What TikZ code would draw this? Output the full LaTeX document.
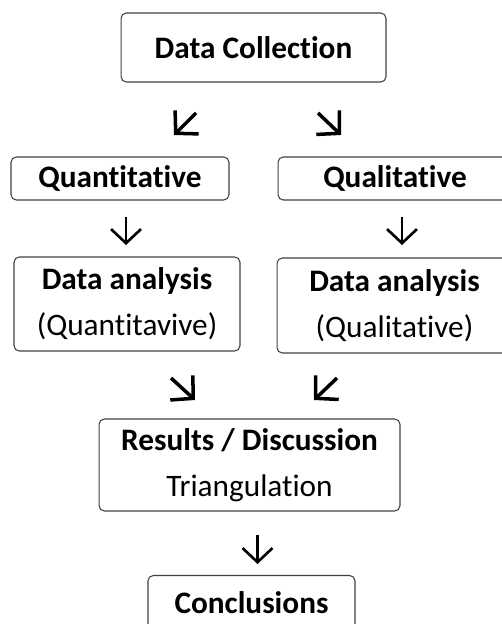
\documentclass[tikz,border=0pt]{standalone}
\usepackage{fontspec}
\setmainfont{Carlito}[Ligatures={NoCommon,NoContextual}]
\usetikzlibrary{arrows.meta}
\tikzset{
    mybox/.style = {rectangle, rounded corners=3pt, draw=black!75, line width=0.6pt, align=center, inner sep=0pt, font=\fontsize{17.8}{26}\selectfont, text=black},
    edgea/.style = {-{Straight Barb[length=9pt,width=19pt]}, line width=2pt, black}, % diagonal
    edged/.style = {-{Straight Barb[length=8pt,width=17pt]}, line width=1.5pt, black}, % down
}

\begin{document}
\begin{tikzpicture}[x=0.02cm,y=-0.02cm]
%
\path[use as bounding box] (0,0) rectangle (502,624);
\clip (0,0) rectangle (502,624);
%
\node[mybox, minimum width=5.3cm, minimum height=1.38cm] at (253.5,47.5) (dc) {\textbf{Data Collection}};
\node[mybox, minimum width=4.36cm, minimum height=0.86cm] at (120,178.5) (quan) {\textbf{Quantitative}};
\node[mybox, minimum width=4.68cm, minimum height=0.86cm] at (395,178.5) (qual) {\textbf{Qualitative}};
\node[mybox, minimum width=4.52cm, minimum height=1.88cm] at (127,304) (anaquan) {\textbf{Data analysis}\\(Quantitavive)};
\node[mybox, minimum width=4.7cm, minimum height=1.9cm] at (394.5,305.5) (anaqual) {\textbf{Data analysis}\\(Qualitative)};
\node[mybox, minimum width=6.02cm, minimum height=1.84cm] at (249.5,465) (res) {\textbf{Results / Discussion}\\Triangulation};
\node[mybox, minimum width=4.14cm, minimum height=1.1cm] at (251.5,603) (conc) {\textbf{Conclusions}};
%
\coordinate (a1s) at (196,113); \coordinate (a1e) at (174,135);
\coordinate (a2s) at (318,113); \coordinate (a2e) at (341,135);
\coordinate (a3s) at (126,217); \coordinate (a3e) at (126,245);
\coordinate (a4s) at (402,217); \coordinate (a4e) at (402,245);
\coordinate (a5s) at (171,378); \coordinate (a5e) at (195,400);
\coordinate (a6s) at (337,378); \coordinate (a6e) at (314,400);
\coordinate (a7s) at (257.5,535); \coordinate (a7e) at (257.5,564);
%
\draw[edgea] (a1s) -- (a1e);
\draw[edgea] (a2s) -- (a2e);
\draw[edged] (a3s) -- (a3e);
\draw[edged] (a4s) -- (a4e);
\draw[edgea] (a5s) -- (a5e);
\draw[edgea] (a6s) -- (a6e);
\draw[edged] (a7s) -- (a7e);

\end{tikzpicture}
\end{document}
